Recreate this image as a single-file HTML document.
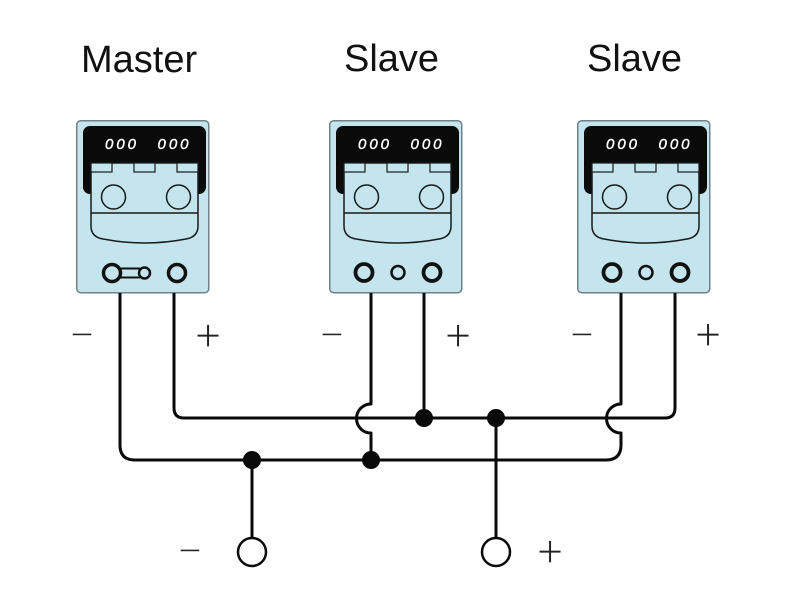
<!DOCTYPE html>
<html><head><meta charset="utf-8"><style>
html,body{margin:0;padding:0;background:#fff;}
svg{display:block;}
</style></head><body>
<svg width="800" height="600" viewBox="0 0 800 600" xmlns="http://www.w3.org/2000/svg">
<rect width="800" height="600" fill="#fff"/>
<g font-family="'Liberation Sans', Arial, sans-serif" fill="#111" font-size="38">
<text x="81" y="72">Master</text>
<text x="344" y="71">Slave</text>
<text x="587" y="71">Slave</text>
</g>

<defs>
<g id="unit">
  <rect x="0.75" y="0.75" width="132" height="172" rx="4" fill="#c4e5ed" stroke="#6f8189" stroke-width="1.5"/>
  <rect x="7" y="6" width="123" height="68" rx="7" fill="#0a0a0a"/>
  <path d="M15 43 H122 V106 Q122 117 110 119 Q68.5 127 27 119 Q15 117 15 106 Z" fill="#c4e5ed" stroke="#1a1a1a" stroke-width="1.5"/>
  <line x1="15" y1="93" x2="122" y2="93" stroke="#1a1a1a" stroke-width="1.5"/>
  <rect x="15" y="43" width="21" height="9" fill="#c4e5ed" stroke="#1a1a1a" stroke-width="1.2"/>
  <rect x="58" y="43" width="21" height="9" fill="#c4e5ed" stroke="#1a1a1a" stroke-width="1.2"/>
  <rect x="101" y="43" width="21" height="9" fill="#c4e5ed" stroke="#1a1a1a" stroke-width="1.2"/>
  <circle cx="37.5" cy="77" r="12" fill="#c4e5ed" stroke="#1a1a1a" stroke-width="1.5"/>
  <circle cx="102.5" cy="77" r="12" fill="#c4e5ed" stroke="#1a1a1a" stroke-width="1.5"/>
  <g font-family="'Liberation Sans', Arial, sans-serif" font-style="italic" font-size="15" fill="#fff" stroke="#fff" stroke-width="0.4" text-anchor="middle">
    <text x="44.5" y="29" textLength="31" lengthAdjust="spacing">000</text>
    <text x="97" y="29" textLength="31" lengthAdjust="spacing">000</text>
  </g>
</g>
</defs>

<!-- Master -->
<g transform="translate(76,120)">
  <use href="#unit"/>
  <line x1="44" y1="148.5" x2="64" y2="148.5" stroke="#111" stroke-width="2"/>
  <line x1="44" y1="157.5" x2="64" y2="157.5" stroke="#111" stroke-width="2"/>
  <circle cx="36" cy="153" r="8.5" fill="#c4e5ed" stroke="#111" stroke-width="3.5"/>
  <circle cx="68.5" cy="153" r="5.5" fill="#c4e5ed" stroke="#111" stroke-width="2.5"/>
  <circle cx="101" cy="153" r="8.5" fill="#c4e5ed" stroke="#111" stroke-width="3.5"/>
</g>
<!-- Slave 1 -->
<g transform="translate(329,120)">
  <use href="#unit"/>
  <circle cx="35" cy="152.5" r="8.5" fill="#c4e5ed" stroke="#111" stroke-width="3.8"/>
  <circle cx="69" cy="152.5" r="6.5" fill="#c4e5ed" stroke="#111" stroke-width="2.5"/>
  <circle cx="103" cy="152.5" r="8.5" fill="#c4e5ed" stroke="#111" stroke-width="3.8"/>
</g>
<!-- Slave 2 -->
<g transform="translate(577,120)">
  <use href="#unit"/>
  <circle cx="35" cy="152.5" r="8.5" fill="#c4e5ed" stroke="#111" stroke-width="3.8"/>
  <circle cx="69" cy="152.5" r="6.5" fill="#c4e5ed" stroke="#111" stroke-width="2.5"/>
  <circle cx="103" cy="152.5" r="8.5" fill="#c4e5ed" stroke="#111" stroke-width="3.8"/>
</g>

<!-- wires -->
<g fill="none" stroke="#0a0a0a" stroke-width="3" stroke-linejoin="round">
  <path d="M120 293 V445 Q120 460 135 460 H606 Q621 460 621 445 V433 A14.5 14.5 0 0 1 621 404 V293"/>
  <path d="M174 293 V408 Q174 418 184 418 H665 Q675 418 675 408 V293"/>
  <path d="M371 293 V404 A14.5 14.5 0 0 0 371 433 V460"/>
  <path d="M424 293 V418"/>
  <path d="M252 460 V538"/>
  <path d="M496 418 V538"/>
</g>
<g fill="#0a0a0a">
  <circle cx="424" cy="418" r="9"/>
  <circle cx="496" cy="418" r="9"/>
  <circle cx="252" cy="460" r="9"/>
  <circle cx="371" cy="460" r="9"/>
</g>
<circle cx="252" cy="552" r="14" fill="#fff" stroke="#0a0a0a" stroke-width="2.5"/>
<circle cx="496" cy="552" r="14" fill="#fff" stroke="#0a0a0a" stroke-width="2.5"/>

<!-- polarity labels -->
<g font-family="'Liberation Sans', Arial, sans-serif" fill="#222" stroke="#fff" stroke-width="1.3" text-anchor="middle">
  <text x="82" y="348" font-size="41">−</text>
  <text x="208" y="351" font-size="46">+</text>
  <text x="332" y="348" font-size="41">−</text>
  <text x="458" y="351" font-size="46">+</text>
  <text x="582" y="348" font-size="41">−</text>
  <text x="708" y="350" font-size="46">+</text>
  <text x="190" y="564" font-size="41">−</text>
  <text x="550" y="567" font-size="46">+</text>
</g>
</svg>
</body></html>
